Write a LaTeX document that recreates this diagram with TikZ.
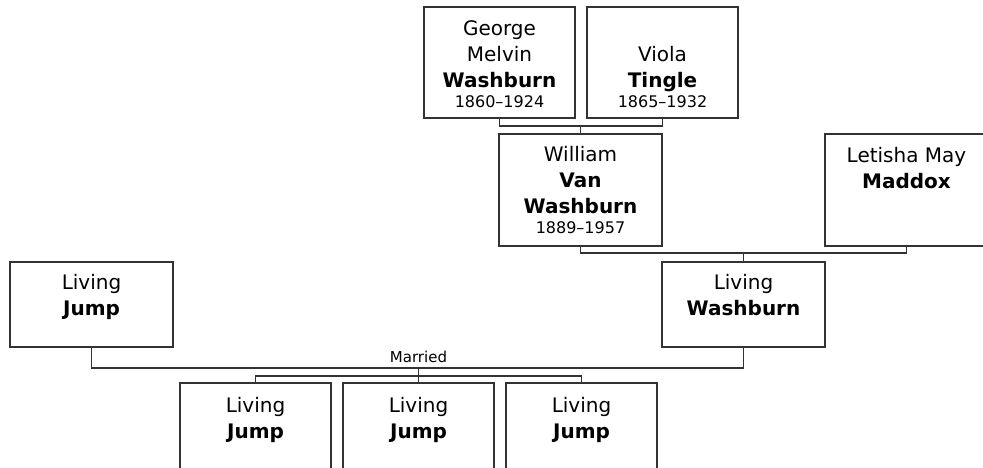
\documentclass[tikz,border=0pt]{standalone}
\usepackage{fontspec}
\setmainfont{DejaVu Sans}
\usetikzlibrary{calc}
\definecolor{edge}{HTML}{333333}
\tikzset{
  person/.style 2 args={draw=edge, line width=1.5pt, fill=white, inner sep=0pt,
    minimum width=#1pt, minimum height=#2pt},
  names/.style={anchor=base, inner sep=0pt, font=\fontsize{20}{26}\selectfont},
  conn/.style={draw=edge, line width=1.6pt},
  marr/.style={anchor=base, inner sep=0pt, font=\fontsize{15}{18}\selectfont}
}
\newcommand{\yrs}[1]{{\fontsize{16}{20}\selectfont #1}}
\begin{document}
\begin{tikzpicture}[x=1pt,y=-1pt]
\useasboundingbox (0,0) rectangle (983,468);
\fill[white] (0,0) rectangle (983,468);
\clip (0,0) rectangle (983,468);

% boxes
\node[person={151}{111}] (george) at (499.5,62.5) {};
\node[person={151}{111}] (viola) at (662.5,62.5) {};
\node[person={163}{112}] (william) at (580.5,190) {};
\node[person={163}{112}] (letisha) at (906.5,190) {};
\node[person={163}{85}] (livw) at (743.5,304.5) {};
\node[person={163}{85}] (livj) at (91.5,304.5) {};
\node[person={151}{110}] (c1) at (255.5,438) {};
\node[person={151}{110}] (c2) at (418.5,438) {};
\node[person={151}{110}] (c3) at (581.5,438) {};

% texts
\node[names] (tgeorge) at ($(george.north)+(0,29.7)$)
  {\begin{tabular}[t]{@{}c@{}}George\\Melvin\\\textbf{Washburn}\\[-6pt]\yrs{1860–1924}\end{tabular}};
\node[names] (tviola) at ($(viola.north)+(0,55.7)$)
  {\begin{tabular}[t]{@{}c@{}}Viola\\\textbf{Tingle}\\[-6pt]\yrs{1865–1932}\end{tabular}};
\node[names] (twilliam) at ($(william.north)+(0,28.7)$)
  {\begin{tabular}[t]{@{}c@{}}William\\\textbf{Van}\\\textbf{Washburn}\\[-6pt]\yrs{1889–1957}\end{tabular}};
\node[names] (tletisha) at ($(letisha.north)+(0,29.3)$)
  {\begin{tabular}[t]{@{}c@{}}Letisha May\\\textbf{Maddox}\end{tabular}};
\node[names] (tlivw) at ($(livw.north)+(0,28.3)$)
  {\begin{tabular}[t]{@{}c@{}}Living\\\textbf{Washburn}\end{tabular}};
\node[names] (tlivj) at ($(livj.north)+(0,28.3)$)
  {\begin{tabular}[t]{@{}c@{}}Living\\\textbf{Jump}\end{tabular}};
\node[names] (tc1) at ($(c1.north)+(0,30.3)$)
  {\begin{tabular}[t]{@{}c@{}}Living\\\textbf{Jump}\end{tabular}};
\node[names] (tc2) at ($(c2.north)+(0,30.3)$)
  {\begin{tabular}[t]{@{}c@{}}Living\\\textbf{Jump}\end{tabular}};
\node[names] (tc3) at ($(c3.north)+(0,30.3)$)
  {\begin{tabular}[t]{@{}c@{}}Living\\\textbf{Jump}\end{tabular}};

% junction points
\coordinate (m1) at ($(william.north)+(0,-7.5)$);
\coordinate (m2) at ($(livw.north)+(0,-8.5)$);
\coordinate (m3) at ($(c2.north)+(0,-14.5)$);
\coordinate (m4) at ($(c2.north)+(0,-6.5)$);

% connectors
\draw[conn] (george.south) |- (m1) -| (viola.south);
\draw[conn] (m1) -- (william.north);
\draw[conn] (william.south) |- (m2) -| (letisha.south);
\draw[conn] (m2) -- (livw.north);
\draw[conn] (livj.south) |- (m3) -| (livw.south);
\draw[conn] (m3) -- (c2.north);
\draw[conn] (c1.north) |- (m4) -| (c3.north);
\node[marr] (married) at ($(m3)+(0,-5)$) {Married};
\end{tikzpicture}
\end{document}
